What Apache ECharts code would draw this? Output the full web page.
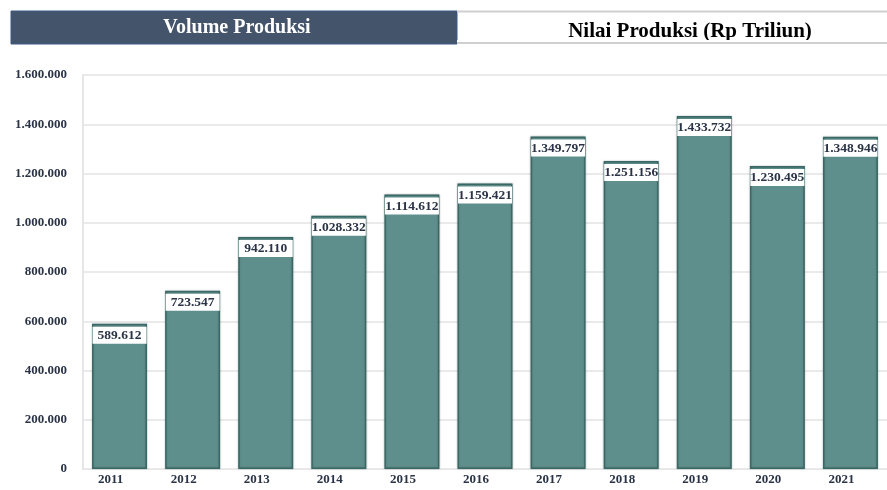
<!DOCTYPE html>
<html>
<head>
<meta charset="utf-8">
<script src="https://cdn.jsdelivr.net/npm/echarts@6/dist/echarts.min.js"></script>
<style>
html,body{margin:0;padding:0;background:#fff;}
#c{width:887px;height:490px;}
</style>
</head>
<body>
<div id="c"></div>
<script>
const years = ['2011','2012','2013','2014','2015','2016','2017','2018','2019','2020','2021'];
const volume = [589612, 723547, 942110, 1028332, 1114612, 1159421, 1349797, 1251156, 1433732, 1230495, 1348946];
const yTicks = [0, 200000, 400000, 600000, 800000, 1000000, 1200000, 1400000, 1600000];
const tabLeft = 'Volume Produksi';
const tabRight = 'Nilai Produksi (Rp Triliun)';

function fmt(v){ return String(v).replace(/\B(?=(\d{3})+(?!\d))/g,'.'); }
const serif = '"Liberation Serif", "Times New Roman", serif';
const chart = echarts.init(document.getElementById('c'), null, {renderer:'canvas'});
chart.setOption({
  animation:false,
  backgroundColor:'#fff',
  grid:{left:83, top:75, width:814, bottom:21, containLabel:false},
  xAxis:{
    type:'category', data:years, boundaryGap:true,
    axisLine:{show:true, lineStyle:{color:'#e6e6e6', width:1}},
    axisTick:{show:false},
    axisLabel:{color:'#2b3446', fontFamily:serif, fontWeight:'bold', fontSize:13, margin:4, padding:[0,18,0,0]}
  },
  yAxis:{
    type:'value', min:yTicks[0], max:yTicks[yTicks.length-1], interval:yTicks[1]-yTicks[0],
    axisLine:{show:true, lineStyle:{color:'#e6e6e6', width:2}},
    axisTick:{show:false},
    splitLine:{lineStyle:{color:'#e3e3e3', width:1.5}},
    axisLabel:{color:'#2b3446', fontFamily:serif, fontWeight:'bold', fontSize:13, margin:16, formatter:v=>fmt(v)}
  },
  series:[{
    type:'bar', data:volume, barWidth:55,
    itemStyle:{color:'#5f8f8c', borderColor:'#3a6864', borderWidth:1.5,
      shadowColor:'rgba(40,70,70,0.35)', shadowBlur:2},
    label:{show:true, position:'insideTop', distance:3,
      formatter:p=>fmt(p.value),
      color:'#2b3446', fontFamily:serif, fontWeight:'bold', fontSize:13.5, lineHeight:14,
      backgroundColor:'#ffffff', padding:[2,1,1,1], width:52, align:'center'}
  }],
  graphic:[
    {type:'rect', shape:{x:11,y:11,width:446,height:33}, style:{fill:'#44546a', stroke:'#3d5a86', lineWidth:1}},
    {type:'text', x:237, y:28, style:{text:tabLeft, fill:'#ffffff', font:'bold 20px '+serif, textAlign:'center', textVerticalAlign:'middle'}},
    {type:'text', x:690, y:32, style:{text:tabRight, fill:'#000000', font:'bold 21px '+serif, textAlign:'center', textVerticalAlign:'middle'}},
    {type:'rect', shape:{x:457,y:40,width:430,height:3}, style:{fill:'#ffffff'}},
    {type:'line', shape:{x1:457,y1:11.5,x2:887,y2:11.5}, style:{stroke:'#cfcfcf', lineWidth:2}},
    {type:'line', shape:{x1:457,y1:43,x2:887,y2:43}, style:{stroke:'#cfcfcf', lineWidth:2}}
  ]
});
</script>
</body>
</html>
